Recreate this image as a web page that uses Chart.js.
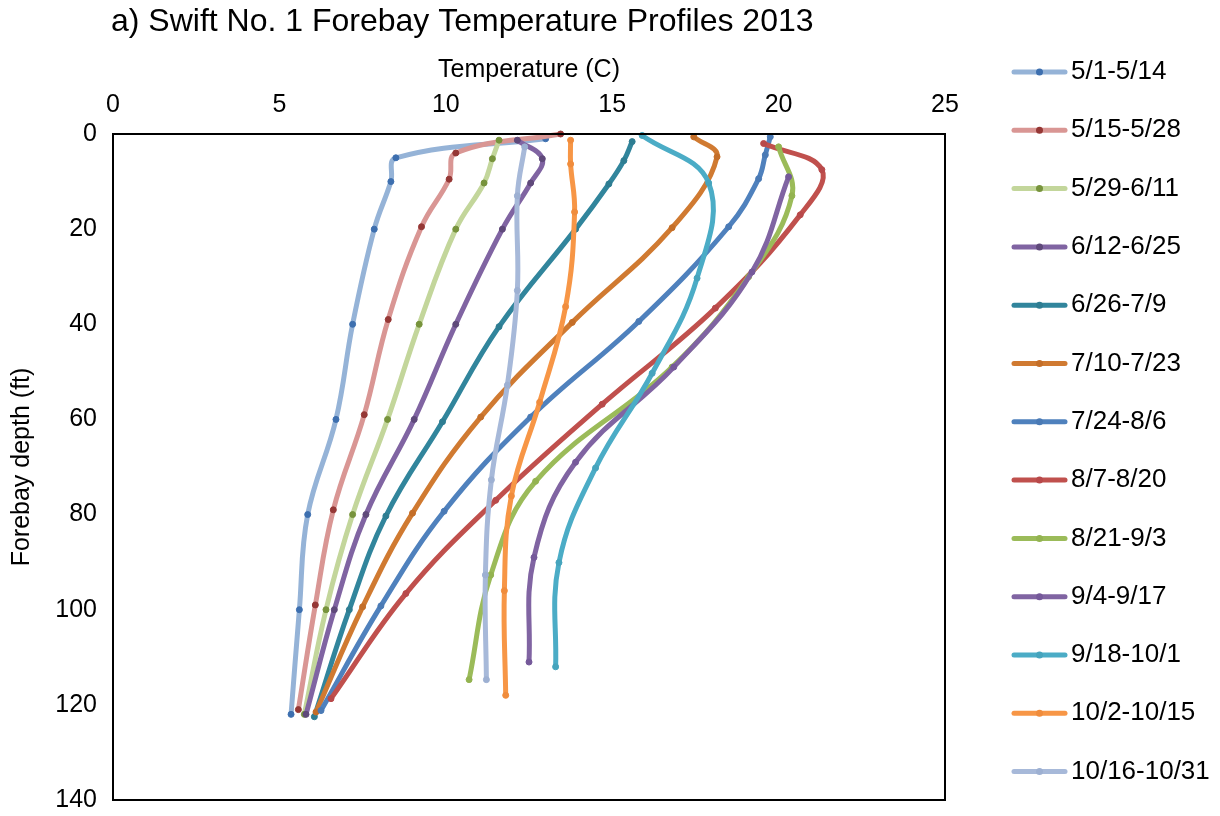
<!DOCTYPE html>
<html>
<head>
<meta charset="utf-8">
<script src="https://cdn.jsdelivr.net/npm/chart.js@4/dist/chart.umd.min.js"></script>
<style>
html,body{margin:0;padding:0;background:#fff;}
#wrap{width:1220px;height:816px;position:relative;}
</style>
</head>
<body>
<div id="wrap"><canvas id="c" width="1220" height="816"></canvas></div>
<script>
// ---- Data (temperature C, depth ft) ----
const seriesNames = ["5/1-5/14","5/15-5/28","5/29-6/11","6/12-6/25","6/26-7/9","7/10-7/23","7/24-8/6","8/7-8/20","8/21-9/3","9/4-9/17","9/18-10/1","10/2-10/15","10/16-10/31"];

const temp_0501 = [13.0, 8.5, 8.35, 7.85, 7.2, 6.7, 5.85, 5.6, 5.35];
const depth_0501 = [1, 5, 10, 20, 40, 60, 80, 100, 122];

const temp_0515 = [13.45, 10.3, 10.1, 9.27, 8.27, 7.55, 6.62, 6.08, 5.57];
const depth_0515 = [0, 4, 9.5, 19.5, 39, 59, 79, 99, 121];

const temp_0529 = [11.6, 11.4, 11.15, 10.3, 9.2, 8.25, 7.2, 6.4, 5.75];
const depth_0529 = [1.3, 5.2, 10.3, 20, 40, 60, 80, 100, 122];

const temp_0612 = [12.15, 12.9, 12.55, 11.7, 10.3, 9.05, 7.6, 6.65, 5.8];
const depth_0612 = [1.3, 5.2, 10.3, 20, 40, 60, 80, 100, 122];

const temp_0626 = [15.6, 15.35, 14.9, 13.9, 11.6, 9.9, 8.2, 7.1, 6.05];
const depth_0626 = [1.6, 5.6, 10.5, 20, 40.5, 60.5, 80.3, 100, 122.5];

const temp_0710 = [17.45, 18.15, 16.8, 13.8, 11.05, 9.0, 7.5, 6.1];
const depth_0710 = [0.6, 4.8, 19.7, 39.6, 59.5, 79.7, 99.4, 121.5];

const temp_0724 = [19.75, 19.6, 19.4, 18.5, 15.8, 12.55, 9.95, 8.05, 6.25];
const depth_0724 = [0.6, 4.4, 9.4, 19.5, 39.4, 59.5, 79.3, 99.2, 121.2];

const temp_0807 = [19.55, 21.3, 20.65, 18.1, 14.7, 11.5, 8.8, 6.55];
const depth_0807 = [2, 7.5, 17, 36.6, 56.8, 77, 96.6, 118.7];

const temp_0821 = [20.0, 20.4, 19.1, 16.8, 12.7, 11.35, 10.7];
const depth_0821 = [2.7, 13, 30, 49, 73, 92.7, 114.7];

const temp_0904 = [20.3, 19.2, 16.85, 13.9, 12.65, 12.5];
const depth_0904 = [9, 29, 49, 69, 89, 111];

const temp_0918 = [15.9, 17.9, 17.55, 16.2, 14.5, 13.4, 13.3];
const depth_0918 = [0.3, 10.3, 30.3, 50.3, 70.2, 90.1, 112];

const temp_1002 = [13.75, 13.75, 13.87, 13.6, 12.82, 11.97, 11.76, 11.8];
const depth_1002 = [1.3, 6.3, 16.4, 36.3, 56.4, 76.1, 96, 118];

const temp_1016 = [12.37, 12.15, 12.15, 11.85, 11.37, 11.19, 11.22];
const depth_1016 = [2.7, 13, 32.9, 52.8, 72.7, 92.7, 114.7];

const xTicks = [0, 5, 10, 15, 20, 25];
const yTicks = [0, 20, 40, 60, 80, 100, 120, 140];

// ---- Styling ----
const temps = [temp_0501,temp_0515,temp_0529,temp_0612,temp_0626,temp_0710,temp_0724,temp_0807,temp_0821,temp_0904,temp_0918,temp_1002,temp_1016];
const depths = [depth_0501,depth_0515,depth_0529,depth_0612,depth_0626,depth_0710,depth_0724,depth_0807,depth_0821,depth_0904,depth_0918,depth_1002,depth_1016];
const lineColors = ['#95B3D7','#D99694','#C3D69B','#8064A2','#31859C','#D07A31','#4F81BD','#C0504D','#9BBB59','#8064A2','#4BACC6','#F79646','#A7B9D9'];
const markColors = ['#3D6FAF','#953735','#77933C','#5F497A','#2E7D92','#C46E28','#4A7AB5','#B8494A','#93B350','#75599A','#46A4BD','#F08C3C','#9DB0D2'];

const FONT = "'Liberation Sans', Arial, sans-serif";

const datasets = seriesNames.map((name, i) => ({
  label: name,
  data: temps[i].map((t, k) => ({x: t, y: depths[i][k]})),
  showLine: true,
  borderColor: lineColors[i],
  backgroundColor: markColors[i],
  pointBackgroundColor: markColors[i],
  pointBorderColor: markColors[i],
  pointRadius: 3,
  pointBorderWidth: 1,
  borderWidth: 5,
  tension: 0.4,
  cubicInterpolationMode: 'default',
  order: seriesNames.length - i,
  clip: false
}));

const framePlugin = {
  id: 'frame',
  afterDatasetsDraw(chart) {
    const a = chart.chartArea, ctx = chart.ctx;
    ctx.save();
    ctx.strokeStyle = '#000';
    ctx.lineWidth = 2;
    ctx.strokeRect(a.left, a.top, a.right - a.left, a.bottom - a.top);
    ctx.restore();
  }
};

const titlePlugin = {
  id: 'customTitle',
  afterDraw(chart) {
    const ctx = chart.ctx;
    ctx.save();
    ctx.fillStyle = '#000';
    ctx.font = "32px " + FONT;
    ctx.textAlign = 'left';
    ctx.textBaseline = 'middle';
    ctx.fillText('a) Swift No. 1 Forebay Temperature Profiles 2013', 111, 22);
    ctx.restore();
  }
};

const legendPlugin = {
  id: 'customLegend',
  afterDraw(chart) {
    const ctx = chart.ctx;
    ctx.save();
    chart.data.datasets.forEach((ds, i) => {
      const y = 72 + i * 58.3;
      ctx.strokeStyle = ds.borderColor;
      ctx.lineWidth = 5;
      ctx.lineCap = 'round';
      ctx.beginPath();
      ctx.moveTo(1014, y);
      ctx.lineTo(1065, y);
      ctx.stroke();
      ctx.fillStyle = ds.pointBackgroundColor;
      ctx.beginPath();
      ctx.arc(1039.5, y, 3.5, 0, Math.PI * 2);
      ctx.fill();
      ctx.fillStyle = '#000';
      ctx.font = "26px " + FONT;
      ctx.textAlign = 'left';
      ctx.textBaseline = 'middle';
      ctx.fillText(ds.label, 1071, y);
    });
    ctx.restore();
  }
};

new Chart(document.getElementById('c'), {
  type: 'scatter',
  data: { datasets },
  options: {
    responsive: false,
    animation: false,
    layout: { padding: { left: 0, top: 0, right: 275, bottom: 16 } },
    plugins: {
      legend: { display: false },
      title: { display: false },
      tooltip: { enabled: false }
    },
    scales: {
      x: {
        type: 'linear',
        position: 'top',
        min: 0, max: 25,
        afterBuildTicks: s => { s.ticks = xTicks.map(v => ({value: v})); },
        afterFit: s => { s.height = 134; s.paddingLeft = 0; s.paddingRight = 0; },
        grid: { display: false, drawTicks: false },
        border: { display: false },
        ticks: { color: '#000', font: { family: FONT, size: 25 }, padding: 14, maxRotation: 0 },
        title: { display: true, text: 'Temperature (C)', color: '#000', font: { family: FONT, size: 25 }, padding: { top: 55, bottom: 0 } }
      },
      y: {
        type: 'linear',
        reverse: true,
        min: 0, max: 140,
        afterBuildTicks: s => { s.ticks = yTicks.map(v => ({value: v})); },
        afterFit: s => { s.width = 113; s.paddingTop = 0; s.paddingBottom = 0; },
        grid: { display: false, drawTicks: false },
        border: { display: false },
        ticks: { color: '#000', font: { family: FONT, size: 25 }, padding: 16 },
        title: { display: true, text: 'Forebay depth (ft)', color: '#000', font: { family: FONT, size: 25 }, padding: { top: 7, bottom: 0 } }
      }
    }
  },
  plugins: [framePlugin, titlePlugin, legendPlugin]
});
</script>
</body>
</html>
